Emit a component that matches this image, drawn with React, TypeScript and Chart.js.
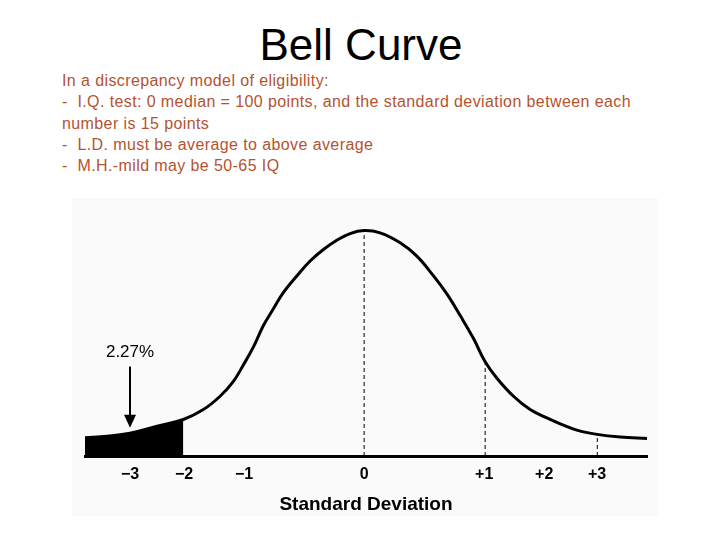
import React, { useEffect, useRef } from "react";
import { Chart, registerables } from "chart.js";

Chart.register(...registerables);

// Curve samples: x in standard-deviation units, y in % of peak height
const curveX = [-2.325, -2.142, -1.95, -1.725, -1.506, -1.339, -1.2, -1.089, -1.006, -0.922, -0.839, -0.756, -0.672, -0.561, -0.45, -0.339, -0.228, -0.117, 0, 0.133, 0.3, 0.439, 0.578, 0.689, 0.8, 0.911, 1.008, 1.106, 1.244, 1.383, 1.522, 1.633, 1.772, 1.939, 2.133, 2.356];
const curveY = [8.1, 8.8, 10.1, 13.2, 16.2, 20.6, 26.5, 33.1, 40.4, 48.4, 57.9, 65.3, 72.6, 79.9, 86.5, 91.6, 95.7, 98.7, 100, 99.0, 94.6, 88.7, 79.9, 71.9, 62.3, 52.1, 41.8, 34.5, 26.5, 20.6, 16.9, 14.3, 11.5, 9.6, 8.4, 7.8];

// Shaded tail ends at this x
const shadeEnd = -1.506;

// Tick positions and labels on the x axis
const tickValues = [-1.95, -1.5, -1.0, 0, 1.0, 1.5, 1.94];
const tickLabels = ["\u22123", "\u22122", "\u22121", "0", "+1", "+2", "+3"];

// Dashed vertical markers
const markerX = [0, 1.008, 1.942];
const markerTop = [100, 41.8, 9.6];

// Arrow annotation
const arrowX = -1.95;
const arrowFrom = 39.7;
const arrowTo = 12.5;
const arrowLabel = "2.27%";

const xMin = -2.325;
const xMax = 2.356;

const arrowPlugin = {
  id: "arrowPlugin",
  afterDatasetsDraw(chart: any) {
    const { ctx, scales } = chart;
    const x = scales.x.getPixelForValue(arrowX);
    const y1 = scales.y.getPixelForValue(arrowFrom);
    const y2 = scales.y.getPixelForValue(arrowTo);
    ctx.save();
    ctx.strokeStyle = "#000";
    ctx.fillStyle = "#000";
    ctx.lineWidth = 2;
    ctx.beginPath();
    ctx.moveTo(x, y1);
    ctx.lineTo(x, y2 - 10);
    ctx.stroke();
    ctx.beginPath();
    ctx.moveTo(x, y2);
    ctx.lineTo(x - 6, y2 - 13);
    ctx.lineTo(x + 6, y2 - 13);
    ctx.closePath();
    ctx.fill();
    ctx.font = "17px 'Liberation Sans', Arial, sans-serif";
    ctx.textAlign = "center";
    ctx.textBaseline = "alphabetic";
    ctx.fillText(arrowLabel, x, y1 - 10);
    ctx.restore();
  },
};

function BellChart() {
  const ref = useRef<HTMLCanvasElement | null>(null);
  useEffect(() => {
    if (!ref.current) return;
    const curve = curveX.map((x, i) => ({ x, y: curveY[i] }));
    const tail = curve.filter((p) => p.x <= shadeEnd + 1e-9);
    const markers = markerX.map((x, i) => ({
      type: "line",
      data: [
        { x, y: 0 },
        { x, y: markerTop[i] },
      ],
      borderColor: "#000",
      borderWidth: 1,
      borderDash: [4, 3],
      pointRadius: 0,
      fill: false,
      order: 2,
    }));
    const chart = new Chart(ref.current, {
      type: "line",
      data: {
        datasets: [
          {
            data: curve,
            borderColor: "#000",
            borderWidth: 3,
            pointRadius: 0,
            fill: false,
            tension: 0.4,
            order: 0,
          },
          {
            data: tail,
            borderColor: "#000",
            borderWidth: 0,
            backgroundColor: "#000",
            pointRadius: 0,
            fill: "origin",
            tension: 0.4,
            order: 1,
          },
          ...(markers as any[]),
        ],
      },
      options: {
        animation: false,
        responsive: true,
        maintainAspectRatio: false,
        layout: { padding: { left: 13, right: 11, top: 20, bottom: 0 } },
        plugins: { legend: { display: false }, tooltip: { enabled: false } },
        scales: {
          x: {
            type: "linear",
            min: xMin,
            max: xMax,
            grid: { display: false, drawTicks: false },
            border: { display: true, color: "#000", width: 3 },
            afterBuildTicks: (axis: any) => {
              axis.ticks = tickValues.map((v) => ({ value: v }));
            },
            ticks: {
              autoSkip: false,
              maxRotation: 0,
              padding: 8.5,
              color: "#000",
              font: { size: 16, weight: "bold", family: "'Liberation Sans', Arial, sans-serif" },
              callback: (_v: any, i: number) => tickLabels[i],
            },
            title: {
              display: true,
              text: "Standard Deviation",
              color: "#000",
              padding: { top: 1, bottom: 0 },
              font: { size: 19, weight: "bold", family: "'Liberation Sans', Arial, sans-serif" },
            },
          },
          y: {
            display: false,
            min: 0,
            max: 105.6,
          },
        },
      } as any,
      plugins: [arrowPlugin],
    });
    return () => chart.destroy();
  }, []);
  return (
    <div style={{ position: "absolute", left: 72, top: 198, width: 586, height: 318, background: "#fafafa" }}>
      <canvas ref={ref} />
    </div>
  );
}

const bodyLines = [
  "In a discrepancy model of eligibility:",
  "-  I.Q. test: 0 median = 100 points, and the standard deviation between each",
  "number is 15 points",
  "-  L.D. must be average to above average",
  "-  M.H.-mild may be 50-65 IQ",
];

export default function App() {
  return (
    <div
      style={{
        position: "fixed",
        left: 0,
        top: 0,
        width: 720,
        height: 540,
        background: "#fff",
        fontFamily: "'Liberation Sans', Arial, sans-serif",
        overflow: "hidden",
      }}
    >
      <div
        style={{
          position: "absolute",
          left: 0,
          top: 23,
          width: 722,
          textAlign: "center",
          fontSize: 44,
          lineHeight: "44px",
          color: "#000",
        }}
      >
        Bell Curve
      </div>
      <div
        style={{
          position: "absolute",
          left: 62,
          top: 70,
          fontSize: 16,
          lineHeight: "21.25px",
          color: "#b4532f",
          letterSpacing: 0.4,
          whiteSpace: "pre",
        }}
      >
        {bodyLines.map((l, i) => (
          <div key={i}>{l}</div>
        ))}
      </div>
      <BellChart />
    </div>
  );
}
